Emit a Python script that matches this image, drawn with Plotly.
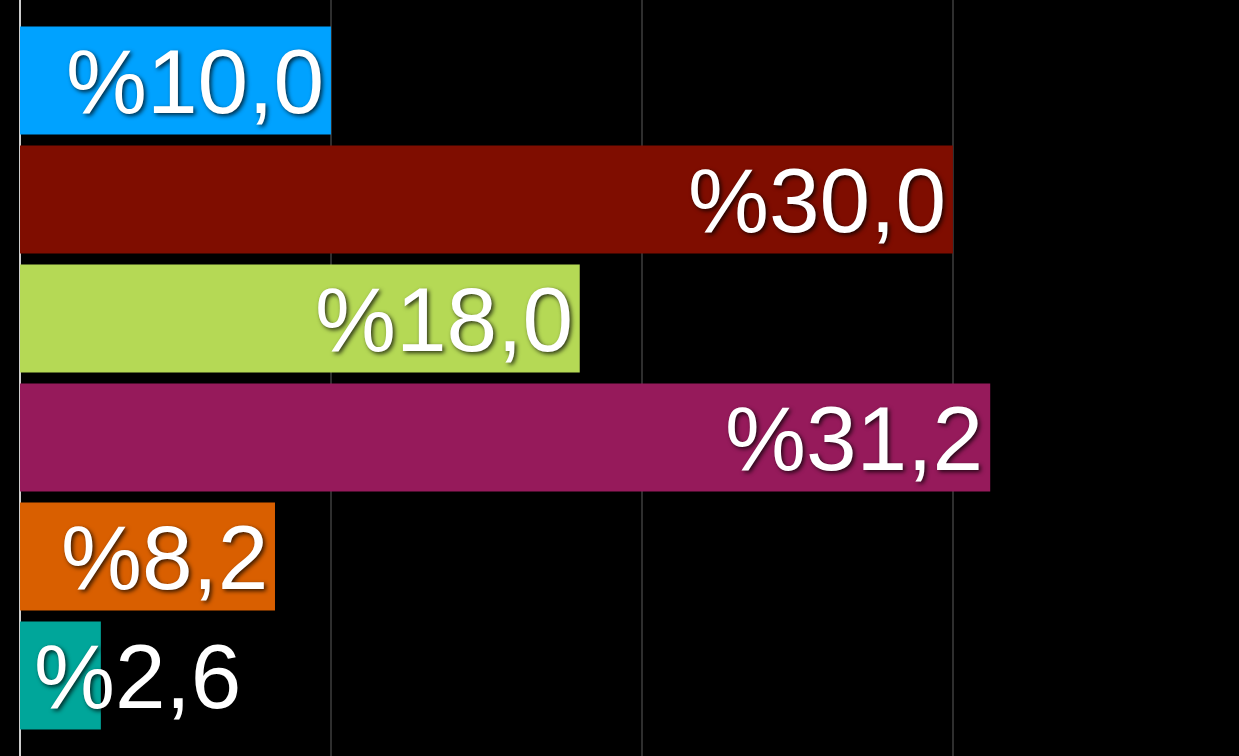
import plotly.graph_objects as go

categories = ["A", "B", "C", "D", "E", "F"]
values = [10.0, 30.0, 18.0, 31.2, 8.2, 2.6]
colors = ["#00A2FF", "#7F0D00", "#B5D955", "#961A5B", "#D95F00", "#00A69A"]
labels = ["%" + f"{v:.1f}".replace(".", ",") for v in values]

fig = go.Figure()
fig.add_trace(go.Bar(
    x=values, y=categories, orientation="h",
    marker=dict(color=colors, line=dict(width=0)),
    hoverinfo="skip",
))

font = dict(family="Liberation Sans, Arial, Helvetica, sans-serif", size=91, color="white",
            shadow="2px 2px 4px rgba(0,0,0,0.75)")
for cat, v, lab in zip(categories, values, labels):
    if v >= 5:
        fig.add_annotation(x=v, y=cat, text=lab, showarrow=False, xanchor="right",
                           yanchor="middle", xshift=-5, yshift=-1, font=font)
    else:
        fig.add_annotation(x=0, y=cat, text=lab, showarrow=False, xanchor="left",
                           yanchor="middle", xshift=12, yshift=-1, font=font)

fig.update_layout(
    width=1239, height=756,
    margin=dict(l=0, r=0, t=0, b=0),
    paper_bgcolor="black", plot_bgcolor="black",
    bargap=0.092,
    showlegend=False,
    xaxis=dict(range=[-0.643, 39.2], dtick=10, tick0=0, showgrid=True,
               gridcolor="#2E2E2E", gridwidth=2, zeroline=True,
               zerolinecolor="#CCCCCC", zerolinewidth=2, showticklabels=False,
               ticks=""),
    yaxis=dict(range=[5.677, -0.677], showgrid=False, showticklabels=False,
               zeroline=False, ticks=""),
)

fig.write_html(
    "out.html",
    config={"displayModeBar": False},
    post_script="document.body.style.margin='0';document.body.style.background='black';document.body.style.overflow='hidden';",
)
